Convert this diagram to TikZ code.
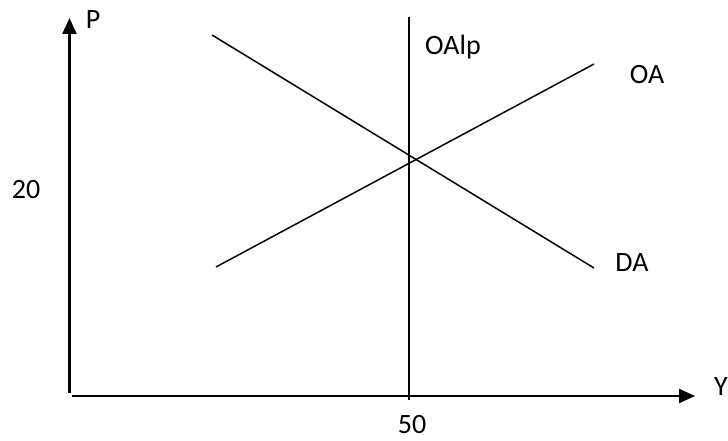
\documentclass[tikz,border=0pt]{standalone}
\usepackage{fontspec}
\setmainfont{Carlito}
\usetikzlibrary{positioning, calc}
\usetikzlibrary{arrows.meta}

\begin{document}
\begin{tikzpicture}[
    x=1pt, y=1pt,
    axis/.style={draw, line width=2.2pt, -{Triangle[length=16pt,width=14pt]}},
    line/.style={draw, line width=1.5pt},
    lab/.style={font=\fontsize{28}{32}\selectfont, inner sep=0pt}
]
\useasboundingbox (0,0) rectangle (728,441);

% Points
\coordinate (vbot) at (69.5,48);
\coordinate (vtop) at (69.5,423);
\coordinate (hleft) at (72,45);
\coordinate (hright) at (695,45);
\coordinate (lptop) at (409,424);
\coordinate (lpbot) at (409,41);
\coordinate (dastart) at (212,406);
\coordinate (daend) at (594,173);
\coordinate (oastart) at (216,174);
\coordinate (oaend) at (594,377);

% Lines
\path [axis] (vbot) -- (vtop);
\path [axis] (hleft) -- (hright);
\path [line] (lpbot) -- (lptop);
\path [line] (dastart) -- (daend);
\path [line] (oastart) -- (oaend);

% Labels
\node [lab] (p) at (93,421) {P};
\node [lab] (y) at (721,54) {Y};
\node [lab] (twenty) at (26,251) {20};
\node [lab] (fifty) at (412,16) {50};
\node [lab] (oalp) at (453,394) {OAlp};
\node [lab] (oa) at (647,366) {OA};
\node [lab] (da) at (632,178) {DA};

\end{tikzpicture}
\end{document}
